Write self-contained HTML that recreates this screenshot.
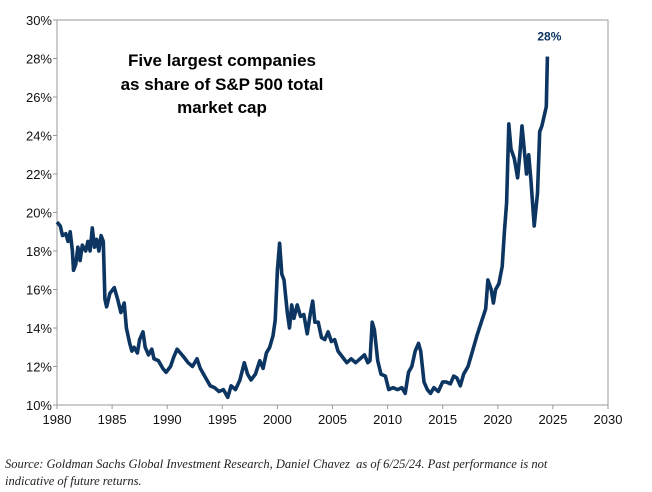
<!DOCTYPE html>
<html><head><meta charset="utf-8"><style>
body{margin:0;background:#fff;width:652px;height:492px;overflow:hidden;font-family:"Liberation Sans",sans-serif}
svg{position:absolute;left:0;top:0}
.foot{position:absolute;left:5px;top:456px;font-family:"Liberation Serif",serif;font-style:italic;font-size:12.5px;line-height:17px;color:#222;width:586px}
</style></head><body>
<svg width="652" height="450">
<g id="axes"></g>
<text x="222" y="66" text-anchor="middle" font-size="17" font-weight="bold">Five largest companies</text>
<text x="222" y="90" text-anchor="middle" font-size="17" font-weight="bold">as share of S&amp;P 500 total</text>
<text x="222" y="113" text-anchor="middle" font-size="17" font-weight="bold">market cap</text>
<path id="line" fill="none" stroke="#0c3561" stroke-width="3.6" stroke-linejoin="round"/>
<text id="endlabel" font-size="12" font-weight="bold" fill="#0c3561" text-anchor="middle">28%</text>
</svg>
<div class="foot">Source: Goldman Sachs Global Investment Research, Daniel Chavez&nbsp; as of 6/25/24. Past performance is not indicative of future returns.</div>
<script>
const years=[1980,1980.3,1980.5,1980.8,1981.0,1981.2,1981.4,1981.5,1981.7,1981.9,1982.1,1982.3,1982.6,1982.8,1983.0,1983.2,1983.4,1983.6,1983.8,1984.0,1984.2,1984.35,1984.5,1984.8,1985.2,1985.5,1985.8,1986.1,1986.3,1986.6,1986.8,1987.0,1987.3,1987.5,1987.8,1988.0,1988.3,1988.6,1988.8,1989.2,1989.6,1989.9,1990.3,1990.6,1990.9,1991.2,1991.5,1991.9,1992.3,1992.7,1993.0,1993.5,1993.9,1994.3,1994.7,1995.1,1995.5,1995.8,1996.2,1996.6,1997.0,1997.3,1997.6,1998.0,1998.4,1998.7,1999.0,1999.3,1999.6,1999.8,2000.0,2000.2,2000.4,2000.6,2000.9,2001.1,2001.3,2001.5,2001.8,2002.1,2002.4,2002.7,2003.0,2003.2,2003.4,2003.7,2004.0,2004.3,2004.6,2004.9,2005.2,2005.5,2005.9,2006.3,2006.7,2007.1,2007.5,2007.9,2008.2,2008.4,2008.6,2008.8,2009.1,2009.4,2009.8,2010.1,2010.5,2010.9,2011.3,2011.6,2011.9,2012.2,2012.5,2012.8,2013.0,2013.3,2013.6,2013.9,2014.2,2014.6,2015.0,2015.3,2015.7,2016.0,2016.3,2016.6,2016.9,2017.3,2017.7,2018.1,2018.5,2018.9,2019.1,2019.4,2019.6,2019.8,2020.1,2020.4,2020.6,2020.8,2021.0,2021.2,2021.5,2021.8,2022.0,2022.2,2022.4,2022.6,2022.8,2023.0,2023.3,2023.6,2023.8,2024.0,2024.2,2024.4,2024.5];
const shares=[19.5,19.3,18.8,18.9,18.5,19.0,18.0,17.0,17.3,18.2,17.5,18.3,18.0,18.5,18.0,19.2,18.2,18.6,18.0,18.8,18.5,15.5,15.1,15.8,16.1,15.5,14.8,15.3,14.0,13.2,12.8,13.0,12.7,13.4,13.8,13.0,12.6,12.9,12.4,12.3,11.9,11.7,12.0,12.5,12.9,12.7,12.5,12.2,12.0,12.4,11.9,11.4,11.0,10.9,10.7,10.8,10.4,11.0,10.8,11.3,12.2,11.6,11.3,11.6,12.3,11.9,12.7,13.0,13.6,14.4,17.0,18.4,16.8,16.5,14.8,14.0,15.2,14.5,15.2,14.6,14.7,13.7,14.8,15.4,14.3,14.3,13.5,13.4,13.8,13.3,13.4,12.8,12.5,12.2,12.4,12.2,12.4,12.6,12.2,12.3,14.3,13.9,12.3,11.6,11.5,10.8,10.9,10.8,10.9,10.6,11.7,12.0,12.8,13.2,12.8,11.2,10.8,10.6,10.9,10.7,11.2,11.2,11.1,11.5,11.4,11.0,11.6,12.0,12.8,13.6,14.3,15.0,16.5,16.0,15.3,16.0,16.3,17.2,19.0,20.5,24.6,23.3,22.8,21.8,23.0,24.5,23.3,22.0,23.0,21.7,19.3,21.0,24.2,24.5,25.0,25.5,28.1];
const xTicks=[1980,1985,1990,1995,2000,2005,2010,2015,2020,2025,2030];
const yTicks=[10,12,14,16,18,20,22,24,26,28,30];
const L=57,R=608,T=20,B=405;
const x=v=>L+(v-1980)/50*(R-L);
const y=v=>B-(v-10)/20*(B-T);
const NS="http://www.w3.org/2000/svg";
const ax=document.getElementById('axes');
function mk(t,a){const e=document.createElementNS(NS,t);for(const k in a)e.setAttribute(k,a[k]);ax.appendChild(e);return e;}
const fr=mk('rect',{x:L,y:T,width:R-L,height:B-T,fill:'none',stroke:'#999','stroke-width':1});


yTicks.forEach(v=>{
 const tk=mk('line',{x1:L-4,x2:L,y1:y(v),y2:y(v),stroke:'#999'});
 
 
 const t=mk('text',{x:L-5,y:y(v)+5,'text-anchor':'end','font-size':13,fill:'#111'});
 t.textContent=v+'%';
 
 
});
xTicks.forEach(v=>{
 const tk=mk('line',{x1:x(v),x2:x(v),y1:B,y2:B+4,stroke:'#999'});
 
 
 const t=mk('text',{x:x(v),y:B+19,'text-anchor':'middle','font-size':13,fill:'#111'});
 t.textContent=v;
 
 
});
document.getElementById('line').setAttribute('d',years.map((yr,i)=>(i?'L':'M')+x(yr).toFixed(1)+','+y(shares[i]).toFixed(1)).join(''));
const el=document.getElementById('endlabel');
el.setAttribute('x',x(years[years.length-1])+2);
el.setAttribute('y',y(shares[shares.length-1])-16);
</script>
</body></html>
